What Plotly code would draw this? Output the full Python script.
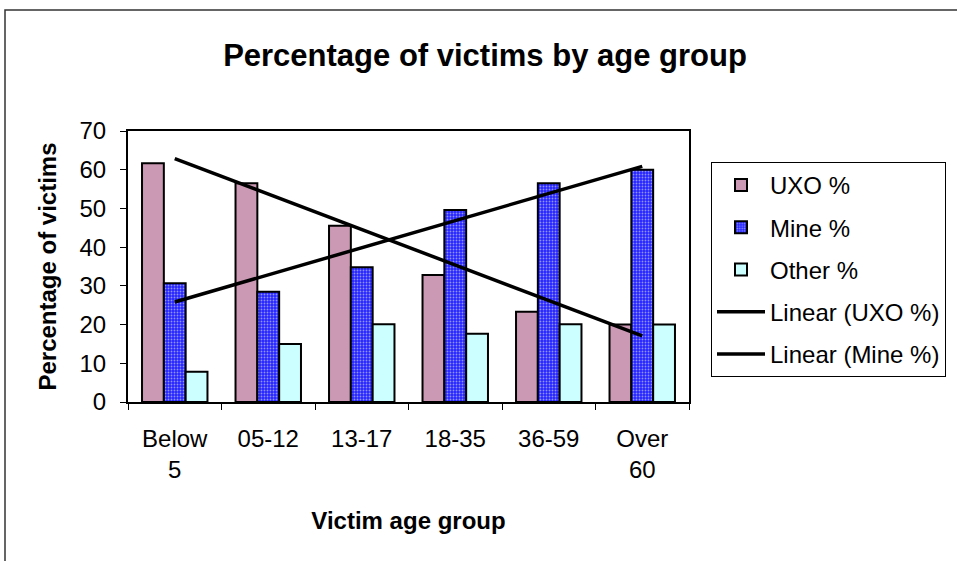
import numpy as np
import plotly.graph_objects as go

categories = ["Below<br>5", "05-12", "13-17", "18-35", "36-59", "Over<br>60"]
uxo = [61.7, 56.5, 45.5, 32.8, 23.3, 20.0]
mine = [30.7, 28.5, 34.8, 49.6, 56.5, 60.0]
other = [7.8, 15.0, 20.1, 17.6, 20.1, 20.0]
y_ticks = [0, 10, 20, 30, 40, 50, 60, 70]

idx = np.arange(len(categories))
uxo_fit = np.polyval(np.polyfit(idx, uxo, 1), idx)
mine_fit = np.polyval(np.polyfit(idx, mine, 1), idx)

FONT = "Liberation Sans, Arial, sans-serif"
W, H = 957, 561
L, R, T, B = 128, 268, 131, 159
pw, ph = W - L - R, H - T - B

def px_x(x):
    return (x - L) / pw

def px_y(y):
    return (H - B - y) / ph

fig = go.Figure()
fig.add_trace(go.Bar(x=categories, y=uxo, name="UXO %",
                     marker=dict(color="#cc99b4", line=dict(color="black", width=2)),
                     legendgroup="a"))
fig.add_trace(go.Bar(x=categories, y=mine, name="Mine %",
                     marker=dict(color="#2424ff", line=dict(color="black", width=2),
                                 pattern=dict(shape=".", fgcolor="white", size=3, solidity=0.3)),
                     legendgroup="b"))
fig.add_trace(go.Bar(x=categories, y=other, name="Other %",
                     marker=dict(color="#ccffff", line=dict(color="black", width=2)),
                     legendgroup="c"))
fig.add_trace(go.Scatter(x=categories, y=uxo_fit, mode="lines", name="Linear (UXO %)",
                         line=dict(color="black", width=3.5), legendgroup="d"))
fig.add_trace(go.Scatter(x=categories, y=mine_fit, mode="lines", name="Linear (Mine %)",
                         line=dict(color="black", width=3.5), legendgroup="e"))

fig.update_layout(
    width=W, height=H,
    margin=dict(l=L, r=R, t=T, b=B, autoexpand=False),
    paper_bgcolor="white", plot_bgcolor="white",
    font=dict(family=FONT, size=23, color="black"),
    barmode="group", bargap=0.3, bargroupgap=0,
    title=dict(text="<b>Percentage of victims by age group</b>",
               font=dict(family=FONT, size=31, color="black"),
               x=485 / W, xanchor="center", xref="container",
               y=1 - 55 / H, yanchor="middle", yref="container"),
    legend=dict(x=px_x(711), y=px_y(162), xanchor="left", yanchor="top",
                bgcolor="white", bordercolor="black", borderwidth=1,
                font=dict(family=FONT, size=24, color="black"),
                tracegroupgap=8, traceorder="grouped", itemwidth=48),
    showlegend=True,
)
fig.update_xaxes(
    type="category",
    showline=True, linecolor="black", linewidth=2, mirror=True,
    ticks="outside", tickson="boundaries", ticklen=6, tickcolor="black",
    ticklabelstandoff=14, tickfont=dict(size=24),
    title=dict(text="<b>Victim age group</b>", font=dict(family=FONT, size=24), standoff=30),
    showgrid=False, automargin=False,
)
fig.update_yaxes(
    range=[0, 70], tickvals=y_ticks, showline=True, linecolor="black", linewidth=2, mirror=True,
    ticks="outside", ticklen=6, tickcolor="black", ticklabelstandoff=9, tickfont=dict(size=24),
    title=dict(text="<b>Percentage of victims</b>", font=dict(family=FONT, size=24), standoff=16),
    showgrid=False, zeroline=False, automargin=False,
)
fig.add_shape(type="rect", xref="paper", yref="paper",
              x0=px_x(5), x1=px_x(1200), y0=px_y(700), y1=px_y(10),
              line=dict(color="#333333", width=1.5), fillcolor="rgba(0,0,0,0)", layer="below")

fig.write_html("out.html", config={"displayModeBar": False},
               post_script="document.body.style.margin='0';document.body.style.overflow='hidden';")
